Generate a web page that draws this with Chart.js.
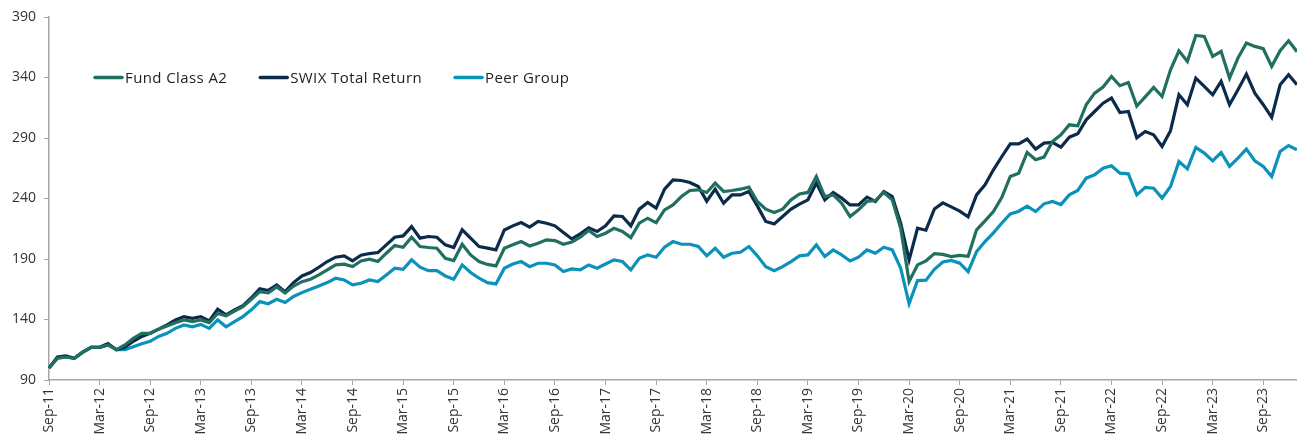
<!DOCTYPE html>
<html>
<head>
<meta charset="utf-8">
<script src="https://cdn.jsdelivr.net/npm/chart.js@4.4.1/dist/chart.umd.min.js"></script>
<style>
  html, body { margin: 0; padding: 0; background: #fff; }
  #wrap { position: relative; width: 1297px; height: 439px; }
</style>
</head>
<body>
<div id="wrap"><canvas id="perfChart"></canvas></div>
<script>
// monthly observations, Sep-11 .. Jan-24
const monthNames = ["Jan", "Feb", "Mar", "Apr", "May", "Jun", "Jul", "Aug", "Sep", "Oct", "Nov", "Dec"];
const months = [];
for (let y = 2011, m = 8; months.length < 149; m++) {
  if (m === 12) { m = 0; y++; }
  months.push(monthNames[m] + "-" + String(y).slice(2));
}

const fundA2 = [
  100, 108, 109, 108, 113, 117, 117, 119, 115, 119, 124.5, 128.6, 128.6, 132, 134.7, 137.4, 139.6, 138.2, 139.6, 137.4,
  145, 143, 147, 150.7, 156.7, 163, 162, 167, 162, 167.7, 171.3, 173.3, 176.8, 181, 185.1, 185.7, 183.7, 188.4, 189.8, 187.9,
  194.8, 201.1, 199.7, 208, 200.3, 199.5, 198.9, 190.6, 188.7, 202.2, 193.4, 187.9, 185.5, 184.3, 198.9, 201.7, 204.4, 200.8, 203, 205.8,
  205.2, 202.2, 204.1, 208, 213.5, 208.6, 211.3, 215.4, 212.7, 207.7, 219.6, 223.7, 220.1, 230.6, 234.7, 241.6, 246.6, 247.2, 245, 252.7,
  245.8, 246.6, 247.7, 249.4, 237.5, 231.2, 228.4, 231.2, 238.9, 243.8, 245, 258.2, 241.6, 243, 236.1, 225.1, 230.6, 237.5, 238.3, 245,
  238.9, 215.4, 171.5, 185.1, 188.5, 194.5, 193.8, 192, 193, 192.3, 214.1, 221.5, 229.2, 241, 258.2, 260.9, 278, 272, 274.2, 287.1,
  292.6, 300.9, 300.1, 317.5, 327.1, 332.1, 340.9, 333.2, 335.9, 316.4, 324, 331.8, 324.3, 346.4, 362.1, 353.3, 374.8, 374, 357.4, 361.6,
  339.5, 356.1, 368.5, 365.7, 363.8, 349.2, 362.1, 370.4, 361.3
];

const swixTR = [
  100, 109, 110, 108, 113, 117, 117, 120, 115, 117, 122, 126, 128.6, 132, 135.5, 139.6, 142.4, 141, 142.4, 138.8,
  148.5, 143.8, 148, 151.5, 158, 165.5, 164, 168.6, 163, 170.5, 176, 178.8, 183.2, 187.9, 191.5, 192.6, 188.4, 193.1, 194.5, 195.3,
  201.7, 208, 209.1, 216.8, 207.2, 208.6, 208, 201.7, 199.5, 214.1, 207.2, 200.3, 199, 197.5, 214, 217.4, 220.1, 216.3, 221, 219.6,
  217.4, 211.9, 206.6, 210.8, 215.7, 212.7, 217.4, 225.6, 225.1, 217.4, 231.2, 236.7, 232, 247.7, 255.4, 254.9, 253.2, 249.9, 237.8, 247.7,
  236.1, 243, 243, 245.8, 233.9, 221, 219, 225.1, 231.2, 235.3, 238.9, 252.7, 238.9, 245, 240.3, 234.7, 234.7, 241.1, 237.5, 245.8,
  241.6, 219.6, 189.3, 215.4, 213.8, 231.3, 236.4, 233.1, 229.6, 224.8, 243, 251.3, 263.7, 274.7, 285.2, 285.2, 289.1, 280.8, 285.8, 286.3,
  282.4, 290.7, 293.5, 305, 311.9, 318.8, 323, 311.1, 311.9, 290.2, 295.4, 292.6, 283, 296, 325.7, 317.5, 339.5, 332.6, 325.7, 336.8,
  317.5, 329.9, 342.8, 327.1, 317.5, 307, 334, 342.3, 334
];

const peerGroup = [
  100, 108, 109, 108, 113, 117, 117, 119, 115, 115, 117.5, 120, 122, 126, 128.6, 132.7, 135.5, 134, 136, 132.7,
  139.6, 134, 138.2, 142.4, 148, 154.8, 153, 156.7, 154, 159, 162.2, 165, 167.7, 170.5, 174.1, 172.7, 168.6, 170, 172.7, 171.3,
  176.8, 182.4, 181.5, 189.3, 183.2, 180.4, 180.4, 176, 173.3, 185.1, 178.8, 174.1, 170.5, 169.4, 182.4, 185.9, 187.9, 183.7, 186.5, 186.5,
  185.1, 179.6, 181.8, 181, 185.1, 182.4, 185.9, 189.3, 187.9, 181, 190.6, 193.4, 191.5, 199.7, 204.4, 202.2, 202.2, 200.3, 192.6, 198.9,
  191.5, 194.8, 195.6, 200.3, 192.6, 183.7, 180.4, 183.7, 187.9, 192.6, 193.4, 201.7, 192, 197.5, 193.4, 188.4, 191.5, 197.5, 194.8, 199.7,
  197.5, 182.4, 153, 172.2, 172.5, 181.5, 187.5, 188.8, 186.5, 179.6, 196.1, 204.4, 211.6, 219.8, 227.3, 229.5, 233.6, 229.2, 235.6, 237.5,
  235, 243, 246.6, 256.8, 259.6, 265.1, 267, 260.9, 260.4, 243, 249.2, 248.5, 240.3, 249.9, 270.6, 264.5, 282.2, 277.5, 271.1, 278,
  266.5, 273.3, 280.8, 271.1, 266.5, 258.2, 278.9, 283.8, 280.2
];

const yTicks = [90, 140, 190, 240, 290, 340, 390];

const axisGrey = "#a6a6a6";
const textGrey = "#333333";
const fontFamily = "'Open Sans', 'Noto Sans', sans-serif";

// legend drawn inside the plot, on the 340 level
const insideLegend = {
  id: "insideLegend",
  afterDraw(chart) {
    const { ctx, chartArea } = chart;
    const y = chart.scales.y.getPixelForValue(340);
    let x = chartArea.left + 44;
    ctx.save();
    ctx.font = "15px " + fontFamily;
    ctx.letterSpacing = "0.4px";
    ctx.textBaseline = "middle";
    chart.data.datasets.forEach(ds => {
      ctx.strokeStyle = ds.borderColor;
      ctx.lineWidth = 3.5;
      ctx.lineCap = "round";
      ctx.beginPath();
      ctx.moveTo(x + 2, y);
      ctx.lineTo(x + 29, y);
      ctx.stroke();
      ctx.fillStyle = "#222";
      ctx.fillText(ds.label, x + 32, y + 1);
      x += 32 + ctx.measureText(ds.label).width + 31;
    });
    ctx.restore();
  }
};

const line = (label, data, color) => ({
  label: label,
  data: data,
  borderColor: color,
  backgroundColor: color,
  borderWidth: 3.2,
  pointRadius: 0,
  tension: 0,
  fill: false
});

new Chart(document.getElementById("perfChart").getContext("2d"), {
  type: "line",
  data: {
    labels: months,
    datasets: [
      line("Fund Class A2", fundA2, "#21705f"),
      line("SWIX Total Return", swixTR, "#0c2b4b"),
      line("Peer Group", peerGroup, "#0a92bb")
    ]
  },
  options: {
    responsive: true,
    maintainAspectRatio: false,
    animation: false,
    layout: { padding: { top: 17, left: 0, right: 0, bottom: 0 } },
    plugins: {
      legend: { display: false },
      tooltip: { enabled: false }
    },
    scales: {
      x: {
        type: "category",
        offset: false,
        afterFit: s => { s.height = 59; s.paddingLeft = 0; s.paddingRight = 0; },
        grid: { display: true, drawOnChartArea: false, drawTicks: true, tickLength: 5, color: axisGrey },
        border: { color: axisGrey, width: 1.5 },
        ticks: {
          autoSkip: false,
          maxRotation: 90,
          minRotation: 90,
          padding: 3,
          color: textGrey,
          font: { family: fontFamily, size: 14 },
          callback: function (val, i) { return i % 6 === 0 ? months[i] : null; }
        }
      },
      y: {
        min: yTicks[0],
        max: yTicks[yTicks.length - 1],
        afterFit: s => { s.width = 49; },
        afterBuildTicks: s => { s.ticks = yTicks.map(v => ({ value: v })); },
        grid: { display: true, drawOnChartArea: false, drawTicks: true, tickLength: 5, color: axisGrey },
        border: { color: axisGrey, width: 1.5 },
        ticks: {
          padding: 8,
          color: textGrey,
          font: { family: fontFamily, size: 14 }
        }
      }
    }
  },
  plugins: [insideLegend]
});
</script>
</body>
</html>
